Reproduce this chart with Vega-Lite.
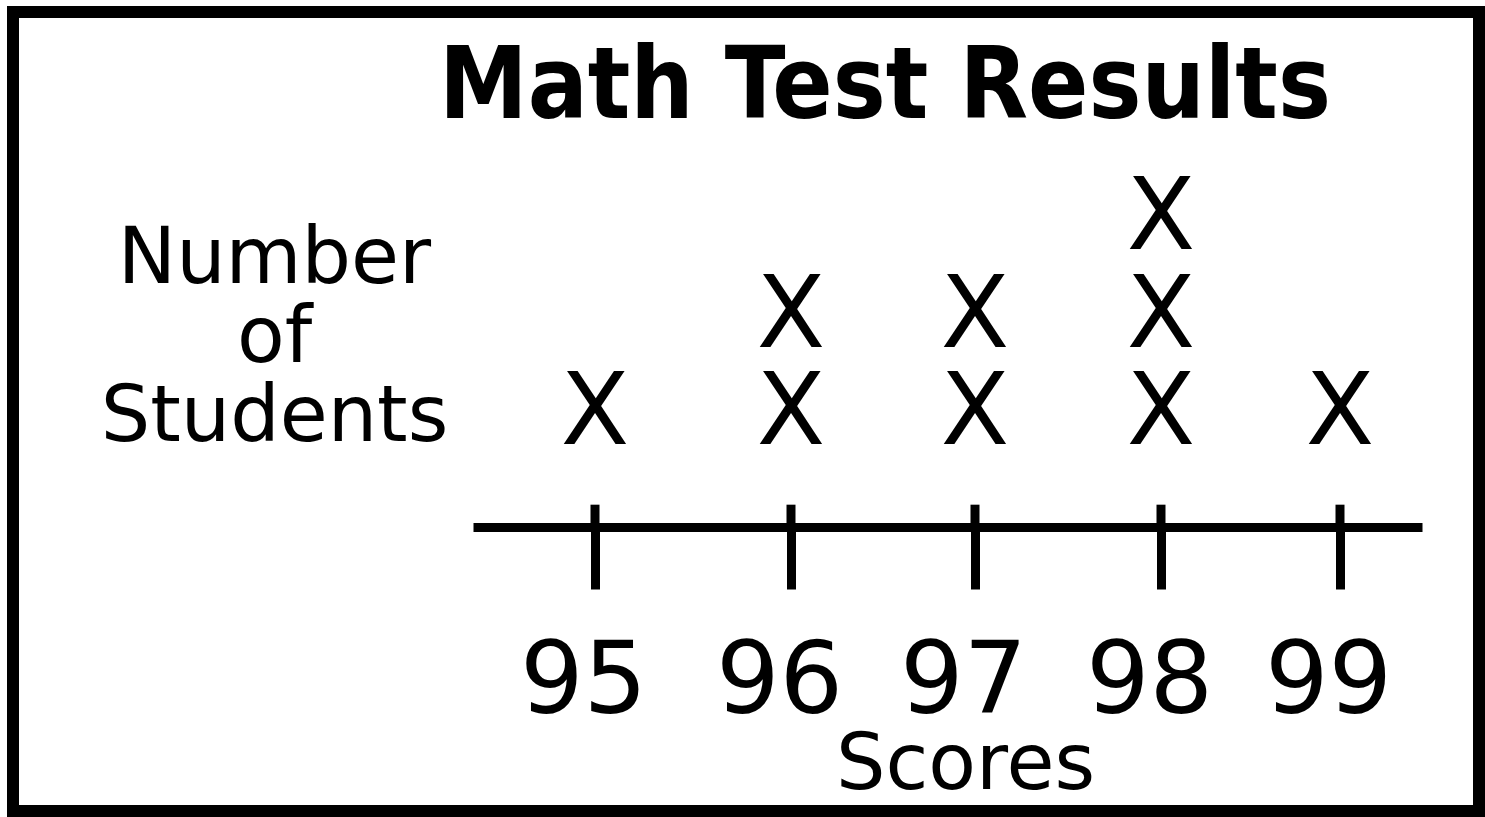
{
  "$schema": "https://vega.github.io/schema/vega-lite/v6.json",
  "autosize": {"type": "none"},
  "padding": {"left": 13, "top": 12, "right": 6, "bottom": 6},
  "width": 1466,
  "height": 799,
  "background": "white",
  "view": {"stroke": "black", "strokeWidth": 12, "fill": "white"},
  "title": {
    "text": "Math Test Results",
    "font": "DejaVu Sans Condensed",
    "fontWeight": "bold",
    "fontSize": 99,
    "color": "black",
    "anchor": "middle",
    "frame": "group",
    "baseline": "alphabetic",
    "offset": -205,
    "dx": 139
  },
  "data": {
    "values": [
      {"score": 95, "n": 1},
      {"score": 96, "n": 1},
      {"score": 96, "n": 2},
      {"score": 97, "n": 1},
      {"score": 97, "n": 2},
      {"score": 98, "n": 1},
      {"score": 98, "n": 2},
      {"score": 98, "n": 3},
      {"score": 99, "n": 1}
    ]
  },
  "encoding": {
    "x": {
      "field": "score",
      "type": "quantitative",
      "scale": {
        "domain": [94.4, 95, 96, 97, 98, 99, 99.5],
        "range": [460, 582, 778, 962, 1148, 1327, 1409]
      },
      "axis": {
        "values": [95, 96, 97, 98, 99],
        "format": "d",
        "offset": -284,
        "grid": false,
        "domain": true,
        "domainColor": "black",
        "domainWidth": 9,
        "ticks": true,
        "tickColor": "black",
        "tickWidth": 9,
        "tickSize": 62,
        "labels": true,
        "labelFont": "DejaVu Sans",
        "labelFontSize": 100,
        "labelColor": "black",
        "labelBaseline": "alphabetic",
        "labelPadding": 123,
        "labelOffset": -12,
        "labelFlush": false,
        "labelOverlap": false,
        "labelBound": false,
        "title": "Scores",
        "titleFont": "DejaVu Sans",
        "titleFontWeight": "normal",
        "titleFontSize": 78,
        "titleColor": "black",
        "titleAlign": "center",
        "titleAnchor": null,
        "titleBaseline": "alphabetic",
        "titleX": 952,
        "titleY": 261
      }
    }
  },
  "layer": [
    {
      "transform": [
        {"aggregate": [{"op": "count", "as": "count"}], "groupby": ["score"]}
      ],
      "mark": {"type": "rule", "color": "black", "strokeWidth": 9},
      "encoding": {
        "y": {"datum": 0.07, "type": "quantitative"},
        "y2": {"datum": -0.2}
      }
    },
    {
      "mark": {
        "type": "text",
        "text": "X",
        "font": "DejaVu Sans",
        "fontSize": 100,
        "color": "black",
        "align": "center",
        "baseline": "middle"
      },
      "encoding": {
        "y": {
          "field": "n",
          "type": "quantitative",
          "scale": {"domain": [0, 3], "range": [499.5, 207]},
          "axis": {
            "grid": false,
            "domain": false,
            "ticks": false,
            "labels": false,
            "title": ["Number", "of", "Students"],
            "titleFont": "DejaVu Sans",
            "titleFontWeight": "normal",
            "titleFontSize": 78,
            "titleColor": "black",
            "titleAngle": 0,
            "titleAlign": "center",
            "titleAnchor": null,
            "titleBaseline": "alphabetic",
            "titleLineHeight": 79,
            "titleX": 261,
            "titleY": 270
          }
        }
      }
    }
  ]
}
